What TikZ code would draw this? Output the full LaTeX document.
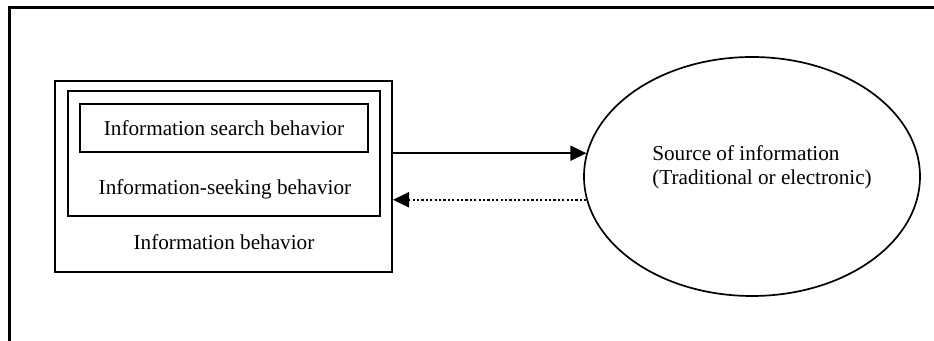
\documentclass[tikz,border=0pt]{standalone}
\usepackage{fontspec}
\setmainfont{Liberation Serif}
\usetikzlibrary{shapes.geometric,arrows.meta}
\begin{document}
\begin{tikzpicture}[x=0.5pt,y=-0.5pt,
  every node/.style={font=\fontsize{10.6}{12.2}\selectfont},
  boxstyle/.style={draw=black,line width=1pt,rectangle,inner sep=0pt},
  labelstyle/.style={inner sep=0pt,align=center},
  srcstyle/.style={draw=black,line width=0.85pt,ellipse,inner sep=0pt,minimum width=168pt,minimum height=119.5pt},
  solidarrow/.style={line width=1pt,-{Triangle[length=8pt,width=7.5pt]}},
  dottedarrow/.style={line width=1.1pt,dash pattern=on 1.1pt off 1.1pt,-{Triangle[length=8pt,width=7.5pt]}},
  framestyle/.style={line width=1.1pt}]
\useasboundingbox (0,0) rectangle (934,341);
% frame
\coordinate (fbl) at (9.5,341);
\coordinate (ftl) at (9.5,7.5);
\coordinate (ftr) at (934,7.5);
\draw[framestyle] (fbl) -- (ftl) -- (ftr);
% boxes
\node[boxstyle,minimum width=168.5pt,minimum height=95.5pt] (outer) at (223.5,176.5) {};
\node[boxstyle,minimum width=156pt,minimum height=62.5pt] (middle) at (224,153.5) {};
\node[boxstyle,minimum width=144pt,minimum height=24pt] (inner) at (224,128) {Information search behavior};
\node[labelstyle] (midlabel) at (225,189) {Information-seeking behavior};
\node[labelstyle] (outlabel) at (224,242) {Information behavior};
% source
\node[srcstyle] (src) at (752,176.5) {};
\node[inner sep=0pt,align=left] (srclabel) at (762,167) {Source of information\\(Traditional or electronic)};
% arrows
\draw[solidarrow] (outer.east |- src.172) -- (src.172);
\draw[dottedarrow] (src.188) -- (outer.east |- src.188);
\end{tikzpicture}
\end{document}
